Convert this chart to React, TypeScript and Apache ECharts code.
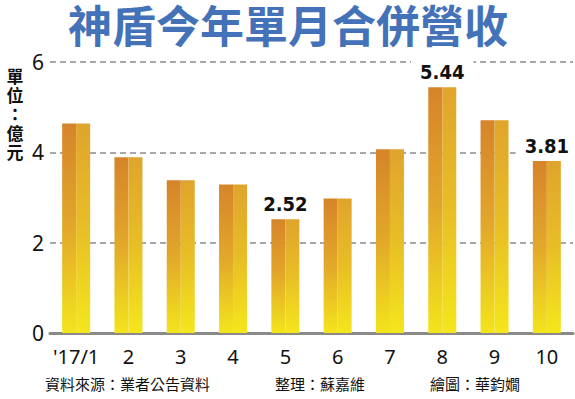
import React, { useEffect, useRef } from "react";
import * as echarts from "echarts";

const categories = ["'17/1", "2", "3", "4", "5", "6", "7", "8", "9", "10"];
const revenue = [4.64, 3.89, 3.38, 3.29, 2.52, 2.98, 4.07, 5.44, 4.71, 3.81];
const labelledIndices = [4, 7, 9];
const yTicks = { min: 0, max: 6, interval: 2 };
const titleText = "神盾今年單月合併營收";
const unitChars = ["單", "位", "：", "億", "元"];
const sourceText = "資料來源：業者公告資料";
const editorText = "整理：蘇嘉維";
const designerText = "繪圖：華鈞嫺";

const cjkFont = "'Liberation Sans', 'Noto Sans CJK TC', sans-serif";

export default function App() {
  const ref = useRef<HTMLDivElement>(null);
  useEffect(() => {
    if (!ref.current) return;
    const chart = echarts.init(ref.current, null, { renderer: "svg" });
    const leftGrad = new echarts.graphic.LinearGradient(0, 0, 0, 1, [
      { offset: 0, color: "#D6842A" },
      { offset: 0.5, color: "#E2A82A" },
      { offset: 1, color: "#F3E41C" },
    ]);
    const rightGrad = new echarts.graphic.LinearGradient(0, 0, 0, 1, [
      { offset: 0, color: "#E0A42C" },
      { offset: 0.5, color: "#E8BE26" },
      { offset: 1, color: "#F4E61C" },
    ]);
    const labelStyle = {
      show: true,
      position: "top" as const,
      distance: 4,
      offset: [-7, 0],
      formatter: (p: any) => p.value.toFixed(2),
      fontFamily: "'Liberation Sans Narrow', 'DejaVu Sans Condensed', 'Liberation Sans', sans-serif",
      fontWeight: "bold" as const,
      fontSize: 20,
      color: "#111",
      backgroundColor: "#fff",
      padding: [5, 9, 1, 9],
    };
    const unitYs = [77, 96, 115, 134, 153];
    chart.setOption({
      animation: false,
      grid: { left: 50, right: 2, top: 62, bottom: 66 },
      xAxis: {
        type: "category",
        data: categories,
        axisLine: { lineStyle: { color: "#8a8a8a", width: 3 } },
        axisTick: { alignWithLabel: true, length: 7, lineStyle: { color: "#8a8a8a", width: 3 } },
        axisLabel: {
          interval: 0,
          margin: 13,
          fontSize: 20,
          color: "#111",
          fontFamily: "'Noto Sans', sans-serif",
        },
      },
      yAxis: {
        type: "value",
        min: yTicks.min,
        max: yTicks.max,
        interval: yTicks.interval,
        axisLine: { show: false },
        axisTick: { show: false },
        axisLabel: { margin: 6, fontSize: 21, color: "#111", fontFamily: "'Noto Sans', sans-serif" },
        splitLine: {
          lineStyle: { color: "#8c8c8c", width: 1.5, type: [6, 4] },
        },
      },
      series: [
        {
          type: "bar",
          barWidth: 14,
          barGap: "0%",
          data: revenue,
          itemStyle: { color: leftGrad },
          z: 3,
        },
        {
          type: "bar",
          barWidth: 14,
          barGap: "0%",
          data: revenue.map((v, i) =>
            labelledIndices.includes(i) ? { value: v, label: labelStyle } : v
          ),
          itemStyle: { color: rightGrad },
          label: { show: false },
          z: 3,
        },
      ],
      graphic: [
        {
          type: "text",
          x: 288,
          y: 27,
          style: {
            text: titleText,
            fontFamily: cjkFont,
            fontWeight: "bold",
            fontSize: 44,
            lineHeight: 44,
            fill: "#4472B8",
            align: "center",
            verticalAlign: "middle",
          },
        },
        ...unitChars.map((c, i) => ({
          type: "text",
          x: 15,
          y: unitYs[i],
          style: {
            text: c,
            fontFamily: cjkFont,
            fontWeight: "bold",
            fontSize: 17,
            lineHeight: 16,
            fill: "#111",
            align: "center",
            verticalAlign: "middle",
          },
        })),
        {
          type: "text",
          left: 45,
          top: 376,
          style: { text: sourceText, fontFamily: "'Noto Sans CJK TC', sans-serif", fontSize: 15, fill: "#111" },
        },
        {
          type: "text",
          left: 275,
          top: 376,
          style: { text: editorText, fontFamily: "'Noto Sans CJK TC', sans-serif", fontSize: 15, fill: "#111" },
        },
        {
          type: "text",
          left: 430,
          top: 376,
          style: { text: designerText, fontFamily: "'Noto Sans CJK TC', sans-serif", fontSize: 15, fill: "#111" },
        },
      ],
    });
    return () => chart.dispose();
  }, []);
  return (
    <div
      ref={ref}
      style={{ position: "absolute", left: 0, top: 0, width: 575, height: 399, background: "#fff" }}
    />
  );
}
